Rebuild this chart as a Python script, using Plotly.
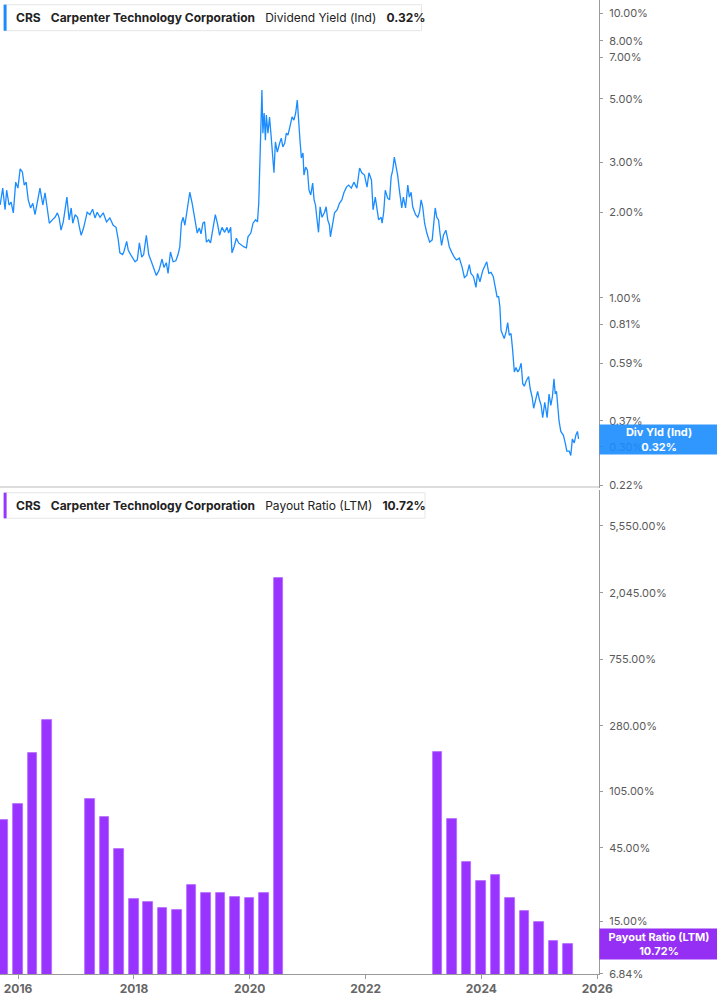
import numpy as np
import plotly.graph_objects as go

# ---------------- data ----------------
div_dates = [
"2015-09-10","2015-09-26","2015-10-11","2015-10-21","2015-11-05","2015-11-18","2015-12-02","2015-12-17","2015-12-31",
"2016-01-14","2016-01-28","2016-02-09","2016-02-21","2016-03-05","2016-03-20","2016-04-03","2016-04-17","2016-05-01",
"2016-05-18","2016-06-05","2016-06-19","2016-06-30","2016-07-16","2016-08-04","2016-08-21","2016-09-05","2016-09-16",
"2016-09-28","2016-10-12","2016-11-04","2016-11-18","2016-12-01","2016-12-11","2016-12-26",
"2017-01-10","2017-01-22","2017-02-02","2017-02-17","2017-03-02","2017-03-12","2017-03-29","2017-04-15","2017-04-30",
"2017-05-14","2017-06-01","2017-06-21","2017-07-12","2017-08-02","2017-08-23","2017-09-10","2017-09-24","2017-10-04",
"2017-10-21","2017-10-29","2017-11-16","2017-11-26","2017-12-11","2017-12-23",
"2018-01-08","2018-01-22","2018-02-04","2018-02-19","2018-03-03","2018-03-20","2018-04-04","2018-04-21","2018-05-05",
"2018-05-22","2018-06-08","2018-06-27","2018-07-09","2018-07-24","2018-08-04","2018-08-19","2018-09-05","2018-09-22",
"2018-10-06","2018-10-17","2018-10-27","2018-11-07","2018-11-18","2018-11-28","2018-12-08","2018-12-19",
"2019-01-03","2019-01-20","2019-02-04","2019-02-17","2019-02-28","2019-03-12","2019-03-22","2019-04-03","2019-04-17",
"2019-04-29","2019-05-14","2019-05-29","2019-06-11","2019-06-25","2019-07-10","2019-07-27","2019-08-11","2019-08-21",
"2019-09-03","2019-09-11","2019-09-24","2019-10-09","2019-10-23","2019-11-10","2019-11-26","2019-12-11","2019-12-21",
"2020-01-08","2020-01-22","2020-02-07","2020-02-19","2020-02-27","2020-03-05","2020-03-12","2020-03-18","2020-03-24",
"2020-04-01","2020-04-09","2020-04-15","2020-04-25","2020-05-05","2020-05-16","2020-05-26","2020-06-02","2020-06-11",
"2020-06-23","2020-07-08","2020-07-18","2020-07-28","2020-08-09","2020-08-19","2020-08-29","2020-09-10","2020-09-24",
"2020-10-06","2020-10-17","2020-10-27","2020-11-05","2020-11-13","2020-11-22","2020-12-02","2020-12-08","2020-12-19",
"2020-12-30",
"2021-01-09","2021-01-20","2021-02-01","2021-02-10","2021-02-19","2021-02-27","2021-03-10","2021-03-20","2021-04-01",
"2021-04-17","2021-04-27","2021-05-07","2021-05-18","2021-05-24","2021-06-05","2021-06-19","2021-07-06","2021-07-20",
"2021-08-04","2021-08-17","2021-09-02","2021-09-16","2021-10-03","2021-10-19","2021-11-07","2021-11-24","2021-12-08",
"2021-12-25",
"2022-01-10","2022-01-22","2022-02-07","2022-02-17","2022-03-03","2022-03-11","2022-03-24","2022-04-09","2022-04-15",
"2022-04-25","2022-05-05","2022-05-20","2022-06-01","2022-06-11","2022-06-21","2022-07-01","2022-07-12","2022-07-22",
"2022-08-02","2022-08-17","2022-08-27","2022-09-10","2022-09-24","2022-10-04","2022-10-15","2022-10-25","2022-11-12",
"2022-11-26","2022-12-07","2022-12-17","2022-12-27",
"2023-01-08","2023-01-22","2023-02-09","2023-02-25","2023-03-05","2023-03-16","2023-03-26","2023-04-06","2023-04-15",
"2023-04-25","2023-05-07","2023-05-22","2023-06-02","2023-06-13","2023-06-30","2023-07-14","2023-07-28","2023-08-15",
"2023-09-02","2023-09-16","2023-10-01","2023-10-17","2023-10-27","2023-11-12","2023-11-28","2023-12-08","2023-12-23",
"2024-01-10","2024-01-27","2024-02-04","2024-02-17","2024-03-02","2024-03-16","2024-03-28","2024-04-09","2024-04-19",
"2024-04-27","2024-05-04","2024-05-14","2024-05-24","2024-06-05","2024-06-15","2024-06-25","2024-07-06","2024-07-16",
"2024-07-27","2024-08-07","2024-08-17","2024-08-27","2024-09-08","2024-09-18","2024-09-28","2024-10-09","2024-10-25",
"2024-11-04","2024-11-16","2024-11-26","2024-12-07","2024-12-21",
"2025-01-01","2025-01-12","2025-01-22","2025-02-04","2025-02-19","2025-03-03","2025-03-14","2025-03-24","2025-04-03",
"2025-04-11","2025-04-19","2025-04-27","2025-05-05","2025-05-16","2025-06-01","2025-06-13","2025-06-23","2025-07-08",
"2025-07-18","2025-07-28","2025-08-09","2025-08-19","2025-08-29","2025-09-05",
]
div_yield = [
2.12,2.43,2.04,2.39,2.12,2.17,1.99,2.55,2.43,
2.84,2.77,2.49,2.55,2.21,2.07,2.15,1.96,2.17,
2.43,2.12,2.34,2.12,1.83,1.88,1.92,1.99,1.91,
1.73,1.85,2.26,1.88,2.07,1.83,1.96,
1.92,1.77,1.66,1.76,1.88,2.00,1.96,2.05,1.91,
2.00,1.92,1.99,1.85,1.91,1.80,1.77,1.60,1.44,
1.42,1.45,1.58,1.47,1.42,1.39,
1.34,1.36,1.56,1.39,1.42,1.66,1.42,1.34,1.27,
1.20,1.25,1.37,1.28,1.33,1.22,1.45,1.34,1.35,
1.42,1.51,1.83,1.92,1.80,1.96,2.17,2.35,
2.15,1.91,1.69,1.76,1.68,1.83,1.85,1.57,1.60,
1.56,1.76,1.96,1.83,1.66,1.77,1.70,1.77,1.69,
1.77,1.44,1.51,1.62,1.56,1.53,1.51,1.50,1.64,
1.69,1.83,1.88,1.85,2.15,2.81,4.11,5.37,3.79,
4.46,3.58,4.39,3.79,4.32,3.64,3.12,2.75,3.53,
3.25,3.50,3.64,3.39,3.50,3.79,3.73,3.98,4.32,
4.21,4.46,4.95,4.32,3.58,3.10,3.23,2.70,2.88,
2.81,
2.39,2.30,2.53,2.21,2.12,1.92,1.70,2.09,1.92,
2.00,2.09,1.88,1.80,1.64,1.77,1.99,2.04,2.15,
2.21,2.34,2.45,2.49,2.43,2.55,2.43,2.86,2.75,
2.70,
2.45,2.75,2.59,2.04,2.26,2.07,1.88,1.92,1.83,
2.00,2.39,2.24,2.21,2.66,2.81,3.12,2.88,2.70,
2.39,2.07,2.26,2.07,2.49,2.26,2.35,2.09,1.96,
1.92,2.00,2.21,2.09,
1.83,1.69,1.57,1.60,1.80,2.07,1.92,1.88,1.69,
1.53,1.66,1.73,1.62,1.51,1.44,1.39,1.36,1.38,
1.28,1.18,1.20,1.31,1.22,1.19,1.09,1.22,1.14,
1.25,1.31,1.34,1.22,1.23,1.19,1.09,1.01,1.01,
0.93,0.77,0.74,0.72,0.76,0.82,0.74,0.75,0.66,
0.55,0.57,0.55,0.56,0.59,0.50,0.49,0.51,0.53,
0.48,0.45,0.41,0.44,0.47,
0.44,0.42,0.38,0.43,0.38,0.46,0.42,0.45,0.52,
0.46,0.47,0.41,0.37,0.34,0.33,0.31,0.29,0.29,
0.28,0.32,0.31,0.33,0.34,0.32,
]

payout_dates = [
"2015-09-30","2015-12-31","2016-03-31","2016-06-30","2016-09-30","2016-12-31",
"2017-03-31","2017-06-30","2017-09-30","2017-12-31",
"2018-03-31","2018-06-30","2018-09-30","2018-12-31",
"2019-03-31","2019-06-30","2019-09-30","2019-12-31",
"2020-03-31","2020-06-30","2020-09-30","2020-12-31",
"2021-03-31","2021-06-30","2021-09-30","2021-12-31",
"2022-03-31","2022-06-30","2022-09-30","2022-12-31",
"2023-03-31","2023-06-30","2023-09-30","2023-12-31",
"2024-03-31","2024-06-30","2024-09-30","2024-12-31",
"2025-03-31","2025-06-30",
]
payout_ratio = [
68.7, 87.2, 185.8, 305.7, None, None,
93.0, 71.8, 44.3, 21.1,
19.9, 18.2, 17.9, 25.9,
23.1, 22.9, 21.7, 21.4,
22.8, 2565.0, None, None,
None, None, None, None,
None, None, None, None,
188.6, 69.3, 36.6, 27.3,
30.0, 21.4, 17.5, 14.9,
11.2, 10.72,
]

yield_ticks = [10, 8, 7, 5, 3, 2, 1, 0.81, 0.59, 0.37, 0.30, 0.22]
payout_ticks = [5550, 2045, 755, 280, 105, 45, 15, 6.84]
year_ticks = ["2016-01-01", "2018-01-01", "2020-01-01", "2022-01-01", "2024-01-01", "2026-01-01"]
year_labels = ["2016", "2018", "2020", "2022", "2024", "2026"]

ticker = "CRS"
company = "Carpenter Technology Corporation"
yield_name = "Dividend Yield (Ind)"
payout_name = "Payout Ratio (LTM)"

# ---------------- styling ----------------
BLUE = "#1a8cff"
PURPLE_BAR = "#9933ff"
PURPLE_BOX = "rgba(140,31,242,0.93)"
BLUE_BOX = "rgba(26,140,255,0.90)"
AXIS = "#9a9a9a"
TICKTXT = "#5a5a5a"
FONT = "Inter"

W, H = 717, 1005
ML, MR, MT, MB = 0, 118, 0, 31
PW, PH = W - ML - MR, H - MT - MB


def px_x(p):
    return p / PW


def px_y(p):
    return 1 - p / PH


def pct(v):
    return f"{v:,.2f}%"


fig = go.Figure()

fig.add_trace(go.Scatter(
    x=div_dates, y=div_yield, mode="lines",
    line=dict(color=BLUE, width=1.3),
    xaxis="x2", yaxis="y2", showlegend=False,
))

fig.add_trace(go.Bar(
    x=payout_dates, y=payout_ratio,
    marker=dict(color=PURPLE_BAR, line=dict(color="#b56cff", width=0.8)),
    width=5.2e9,
    xaxis="x", yaxis="y", showlegend=False,
))

xrange = ["2015-09-09", "2026-01-12"]

fig.update_layout(
    width=W, height=H,
    margin=dict(l=ML, r=MR, t=MT, b=MB),
    paper_bgcolor="white", plot_bgcolor="white",
    font=dict(family=FONT, color=TICKTXT),
    bargap=0,
    xaxis=dict(
        domain=[0, 1], anchor="y", type="date", range=xrange,
        tickvals=year_ticks, ticktext=year_labels,
        tickfont=dict(size=12, color="#666666", weight=700),
        showline=True, linecolor=AXIS, linewidth=1,
        ticks="outside", ticklen=4, tickcolor=AXIS,
        showgrid=False, zeroline=False,
    ),
    xaxis2=dict(
        domain=[0, 1], anchor="y2", type="date", range=xrange, matches="x",
        showticklabels=False, showline=False, ticks="", showgrid=False, zeroline=False,
    ),
    yaxis=dict(
        domain=[0, 0.4969], anchor="x", side="right", type="log",
        range=[np.log10(6.84) - 0.0006, 3.978],
        tickvals=payout_ticks, ticktext=[pct(v) for v in payout_ticks],
        tickfont=dict(size=11, color=TICKTXT),
        showline=True, linecolor=AXIS, linewidth=1,
        ticks="outside", ticklen=3, tickcolor=AXIS, ticklabelstandoff=4,
        showgrid=False, zeroline=False,
    ),
    yaxis2=dict(
        domain=[0.4990, 1], anchor="x2", side="right", type="log",
        range=[-0.667, 1.046],
        tickvals=yield_ticks, ticktext=[pct(v) for v in yield_ticks],
        tickfont=dict(size=11, color=TICKTXT),
        showline=True, linecolor=AXIS, linewidth=1,
        ticks="outside", ticklen=3, tickcolor=AXIS, ticklabelstandoff=4,
        showgrid=False, zeroline=False,
    ),
)

shapes = []
# divider between panels
shapes.append(dict(type="line", xref="paper", yref="paper", x0=0, x1=1,
                   y0=px_y(487), y1=px_y(487), line=dict(color="#dddddd", width=2)))
# legend boxes
for (top, bot, right, col) in [(4.7, 30.7, 421.6, BLUE), (492.7, 518.3, 425.0, PURPLE_BAR)]:
    shapes.append(dict(type="rect", xref="paper", yref="paper",
                       x0=px_x(3.7), x1=px_x(right), y0=px_y(bot), y1=px_y(top),
                       fillcolor="white", line=dict(color="#e6e6e6", width=1)))
    shapes.append(dict(type="rect", xref="paper", yref="paper",
                       x0=px_x(3.7), x1=px_x(6.6), y0=px_y(bot), y1=px_y(top),
                       fillcolor=col, line=dict(width=0)))
fig.update_layout(shapes=shapes)

sp = "\u00a0\u00a0\u00a0"
last_yield = div_yield[-1]
last_payout = payout_ratio[-1]

annotations = [
    dict(xref="paper", yref="paper", x=px_x(13.7), y=px_y(17.7), xanchor="left", yanchor="middle",
         showarrow=False, align="left",
         text=f"<b>{ticker}</b>{sp}<b>{company}</b>{sp}{yield_name}{sp}<b>{pct(last_yield)}</b>",
         font=dict(size=12, color="#222222", family=FONT)),
    dict(xref="paper", yref="paper", x=px_x(13.7), y=px_y(505.5), xanchor="left", yanchor="middle",
         showarrow=False, align="left",
         text=f"<b>{ticker}</b>{sp}<b>{company}</b>{sp}{payout_name}{sp}<b>{pct(last_payout)}</b>",
         font=dict(size=12, color="#222222", family=FONT)),
    dict(xref="paper", yref="y2", x=1, y=np.log10(last_yield), xanchor="left", yanchor="middle",
         yshift=-1, showarrow=False, align="center", width=114, height=25, borderpad=2,
         bgcolor=BLUE_BOX, text=f"<b>Div Yld (Ind)<br>{pct(last_yield)}</b>",
         font=dict(size=11, color="white", family=FONT)),
    dict(xref="paper", yref="y", x=1, y=np.log10(last_payout), xanchor="left", yanchor="middle",
         showarrow=False, align="center", width=114, height=26, borderpad=2,
         bgcolor=PURPLE_BOX, text=f"<b>{payout_name}<br>{pct(last_payout)}</b>",
         font=dict(size=11, color="white", family=FONT)),
]
fig.update_layout(annotations=annotations)

fig.write_html(
    "out.html",
    config={"displayModeBar": False},
    post_script="document.body.style.margin='0';document.body.style.padding='0';",
)
